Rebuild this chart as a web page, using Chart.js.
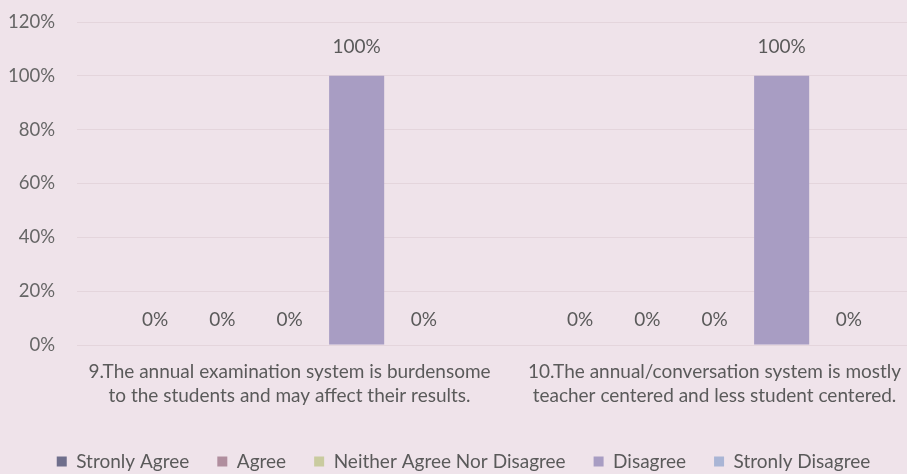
<!DOCTYPE html>
<html>
<head>
<meta charset="utf-8">
<script src="https://cdn.jsdelivr.net/npm/chart.js@4/dist/chart.umd.min.js"></script>
<style>
  html, body { margin: 0; padding: 0; background: #efe3ea; overflow: hidden; }
  #wrap { width: 935px; height: 481px; position: relative; }
</style>
</head>
<body>
<div id="wrap"><canvas id="c"></canvas></div>
<script>
const categories = [
  ["9.The annual examination system is burdensome", "to the students and may affect their results."],
  ["10.The annual/conversation system is mostly", "teacher centered and less student centered."]
];
const seriesNames = ["Stronly Agree", "Agree", "Neither Agree Nor Disagree", "Disagree", "Stronly Disagree"];
const stronglyAgree = [0, 0];
const agree = [0, 0];
const neither = [0, 0];
const disagree = [100, 100];
const stronglyDisagree = [0, 0];
const yTicks = [0, 20, 40, 60, 80, 100, 120];

const seriesValues = [stronglyAgree, agree, neither, disagree, stronglyDisagree];
const seriesColors = ["#6f6f8c", "#b08e9e", "#c9cb9f", "#a89dc3", "#a9b5d5"];
const textColor = "#5a5a5a";
const font = "Lato";

const dataLabels = {
  id: "dataLabels",
  afterDatasetsDraw(chart) {
    const ctx = chart.ctx;
    ctx.save();
    ctx.font = "19px " + font;
    ctx.fillStyle = textColor;
    ctx.textAlign = "center";
    ctx.textBaseline = "bottom";
    chart.data.datasets.forEach((ds, di) => {
      const meta = chart.getDatasetMeta(di);
      meta.data.forEach((bar, i) => {
        ctx.fillText(ds.data[i] + "%", bar.x, bar.y - (ds.data[i] > 0 ? 19 : 16));
      });
    });
    ctx.restore();
  }
};

new Chart(document.getElementById("c"), {
  type: "bar",
  data: {
    labels: categories,
    datasets: seriesNames.map((n, i) => ({
      label: n,
      data: seriesValues[i],
      backgroundColor: seriesColors[i],
      borderWidth: 0,
      barPercentage: 0.82,
      categoryPercentage: 0.79
    }))
  },
  options: {
    responsive: true,
    maintainAspectRatio: false,
    animation: false,
    layout: { padding: { top: 22, right: 8, left: 0, bottom: 0 } },
    plugins: {
      legend: {
        position: "bottom",
        labels: {
          font: { family: font, size: 19 },
          color: textColor,
          boxWidth: 10,
          boxHeight: 10,
          padding: 28
        }
      },
      tooltip: { enabled: false }
    },
    scales: {
      x: {
        grid: { display: false },
        border: { display: false },
        ticks: {
          font: { family: font, size: 19, lineHeight: 1.25 },
          color: textColor,
          padding: 7,
          maxRotation: 0,
          autoSkip: false
        },
        afterFit(scale) { scale.height = 79; }
      },
      y: {
        min: 0,
        max: 120,
        afterBuildTicks(scale) { scale.ticks = yTicks.map(v => ({ value: v })); },
        grid: { color: "rgba(215,195,205,0.45)", drawTicks: false },
        border: { display: false },
        ticks: {
          font: { family: font, size: 18.5 },
          color: "#666666",
          padding: 22,
          callback: v => v + "%"
        },
        afterFit(scale) {
          scale.width = 77;
          scale.paddingTop = 0;
          scale.paddingBottom = 0;
        }
      }
    }
  },
  plugins: [dataLabels]
});
</script>
</body>
</html>
